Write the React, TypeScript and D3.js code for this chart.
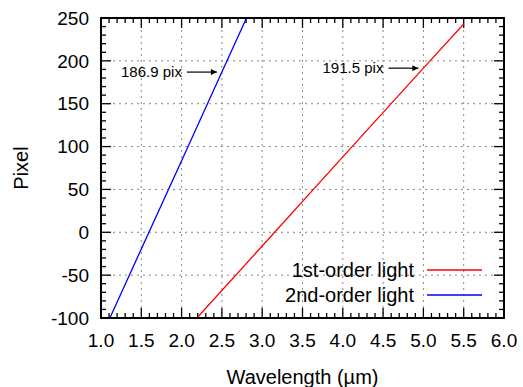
import React, { useRef, useEffect } from 'react';
import * as d3 from 'd3';

// 1st-order light (red) — wavelength in µm vs pixel
const firstWl = [2.19, 3.0, 4.0, 5.0, 5.5];
const firstPix = [-100, -16, 88, 191.5, 243];

// 2nd-order light (blue)
const secondWl = [1.11, 1.5, 2.0, 2.5, 2.81];
const secondPix = [-100, -19.5, 83.5, 186.9, 251];

const xTicks = [1.0, 1.5, 2.0, 2.5, 3.0, 3.5, 4.0, 4.5, 5.0, 5.5, 6.0];
const yTicks = [-100, -50, 0, 50, 100, 150, 200, 250];

const notes = [
  { label: '186.9 pix', wl: 2.5, pix: 186.9 },
  { label: '191.5 pix', wl: 5.0, pix: 191.5 },
];

const legend = [
  { label: '1st-order light', color: '#ff0000' },
  { label: '2nd-order light', color: '#0000ff' },
];

const W = 523;
const H = 387;
const FONT = '"Liberation Sans", Arial, sans-serif';

const App = () => {
  const ref = useRef<SVGSVGElement>(null);

  useEffect(() => {
    const m = { top: 18, right: 19, bottom: 69, left: 101 };
    const iw = W - m.left - m.right;
    const ih = H - m.top - m.bottom;

    const x = d3.scaleLinear().domain([1, 6]).range([0, iw]);
    const y = d3.scaleLinear().domain([-100, 250]).range([ih, 0]);

    const svg = d3.select(ref.current);
    svg.selectAll('*').remove();

    const defs = svg.append('defs');
    defs
      .append('clipPath')
      .attr('id', 'plot-clip')
      .append('rect')
      .attr('width', iw)
      .attr('height', ih);
    defs
      .append('marker')
      .attr('id', 'arrow')
      .attr('viewBox', '0 0 10 10')
      .attr('refX', 10)
      .attr('refY', 5)
      .attr('markerWidth', 9)
      .attr('markerHeight', 6)
      .attr('markerUnits', 'userSpaceOnUse')
      .attr('orient', 'auto')
      .append('path')
      .attr('d', 'M0,0L10,5L0,10z')
      .attr('fill', '#000');

    const g = svg.append('g').attr('transform', `translate(${m.left},${m.top})`);

    // grid
    const grid = g.append('g').attr('stroke', '#888').attr('stroke-dasharray', '2,4').attr('stroke-width', 1);
    grid
      .selectAll('line.vx')
      .data(xTicks.slice(1, -1))
      .join('line')
      .attr('x1', (d) => x(d))
      .attr('x2', (d) => x(d))
      .attr('y1', 0)
      .attr('y2', ih);
    grid
      .selectAll('line.hy')
      .data(yTicks.slice(1, -1))
      .join('line')
      .attr('x1', 0)
      .attr('x2', iw)
      .attr('y1', (d) => y(d))
      .attr('y2', (d) => y(d));

    // ticks (inward, mirrored)
    const minorX = d3.range(10, 61).map((v) => v / 10);
    const minorY = d3.range(-100, 251, 10);
    const tk = g.append('g').attr('stroke', '#000').attr('stroke-width', 1.3);
    minorX.forEach((v) => {
      const major = Math.abs(v * 2 - Math.round(v * 2)) < 1e-6;
      const len = major ? 10 : 5;
      tk.append('line').attr('x1', x(v)).attr('x2', x(v)).attr('y1', ih).attr('y2', ih - len);
      tk.append('line').attr('x1', x(v)).attr('x2', x(v)).attr('y1', 0).attr('y2', len);
    });
    minorY.forEach((v) => {
      const major = v % 50 === 0;
      const len = major ? 10 : 5;
      tk.append('line').attr('x1', 0).attr('x2', len).attr('y1', y(v)).attr('y2', y(v));
      tk.append('line').attr('x1', iw).attr('x2', iw - len).attr('y1', y(v)).attr('y2', y(v));
    });

    // lines
    const line = d3
      .line<[number, number]>()
      .x((d) => x(d[0]))
      .y((d) => y(d[1]));
    const plot = g.append('g').attr('clip-path', 'url(#plot-clip)');
    plot
      .append('path')
      .datum(d3.zip(firstWl, firstPix) as [number, number][])
      .attr('d', line)
      .attr('fill', 'none')
      .attr('stroke', '#ff0000')
      .attr('stroke-width', 1.3);
    plot
      .append('path')
      .datum(d3.zip(secondWl, secondPix) as [number, number][])
      .attr('d', line)
      .attr('fill', 'none')
      .attr('stroke', '#0000ff')
      .attr('stroke-width', 1.3);

    // frame
    g.append('rect')
      .attr('width', iw)
      .attr('height', ih)
      .attr('fill', 'none')
      .attr('stroke', '#000')
      .attr('stroke-width', 2);

    // tick labels
    g.append('g')
      .selectAll('text')
      .data(xTicks)
      .join('text')
      .attr('x', (d) => x(d))
      .attr('y', ih + 29)
      .attr('text-anchor', 'middle')
      .attr('font-family', FONT)
      .attr('font-size', 19)
      .text((d) => d.toFixed(1));
    g.append('g')
      .selectAll('text')
      .data(yTicks)
      .join('text')
      .attr('x', -12)
      .attr('y', (d) => y(d))
      .attr('dy', '0.35em')
      .attr('text-anchor', 'end')
      .attr('font-family', FONT)
      .attr('font-size', 19)
      .text((d) => String(d));

    // axis titles
    svg
      .append('text')
      .attr('x', m.left + iw / 2)
      .attr('y', 384)
      .attr('text-anchor', 'middle')
      .attr('font-family', FONT)
      .attr('font-size', 20)
      .text('Wavelength (µm)');
    svg
      .append('text')
      .attr('transform', `translate(28,${m.top + ih / 2}) rotate(-90)`)
      .attr('text-anchor', 'middle')
      .attr('font-family', FONT)
      .attr('font-size', 20)
      .text('Pixel');

    // annotations
    notes.forEach((n) => {
      const px = x(n.wl);
      const py = y(n.pix);
      g.append('line')
        .attr('x1', px - 35)
        .attr('x2', px - 5)
        .attr('y1', py)
        .attr('y2', py)
        .attr('stroke', '#000')
        .attr('stroke-width', 1.2)
        .attr('marker-end', 'url(#arrow)');
      g.append('text')
        .attr('x', px - 40)
        .attr('y', py)
        .attr('dy', '0.35em')
        .attr('text-anchor', 'end')
        .attr('font-family', FONT)
        .attr('font-size', 15)
        .text(n.label);
    });

    // legend
    legend.forEach((l, i) => {
      const ly = 252 + i * 25;
      g.append('text')
        .attr('x', 313)
        .attr('y', ly)
        .attr('dy', '0.35em')
        .attr('text-anchor', 'end')
        .attr('font-family', FONT)
        .attr('font-size', 20)
        .text(l.label);
      g.append('line')
        .attr('x1', 326)
        .attr('x2', 381)
        .attr('y1', ly)
        .attr('y2', ly)
        .attr('stroke', l.color)
        .attr('stroke-width', 1.3);
    });
  }, []);

  return (
    <svg
      ref={ref}
      width={W}
      height={H}
      style={{ position: 'absolute', left: 0, top: 0, background: '#fff' }}
    ></svg>
  );
};

export default App;
